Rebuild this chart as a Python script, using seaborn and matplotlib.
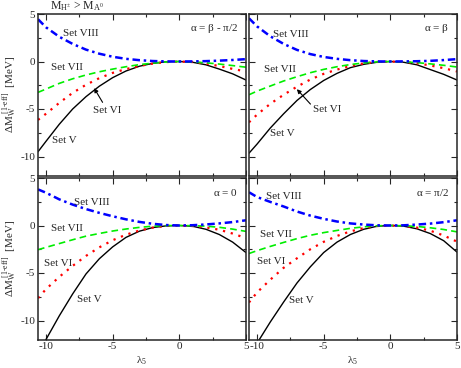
import numpy as np
import pandas as pd
import seaborn as sns
import matplotlib
matplotlib.use("Agg")
import matplotlib.pyplot as plt

# lambda_5 sampling points
lam = [-10.6, -10, -9, -8, -7, -6, -5, -4, -3, -2, -1, 0, 1, 2, 3, 4, 5]

# alpha = beta - pi/2 (top left)
tl_set_v = [-9.5, -8.4, -6.6, -5.0, -3.7, -2.6, -1.7, -1.0, -0.5, -0.2, -0.03, 0, -0.08, -0.35, -0.8, -1.3, -1.95]
tl_set_vi = [-6.15, -5.5, -4.35, -3.3, -2.45, -1.75, -1.2, -0.8, -0.47, -0.22, -0.06, 0, -0.06, -0.22, -0.48, -0.78, -1.05]
tl_set_vii = [-3.25, -2.9, -2.3, -1.82, -1.42, -1.08, -0.8, -0.55, -0.33, -0.17, -0.05, 0, -0.05, -0.14, -0.27, -0.43, -0.6]
tl_set_viii = [4.45, 3.6, 2.6, 1.85, 1.25, 0.82, 0.5, 0.28, 0.14, 0.05, 0.01, 0, 0.01, 0.04, 0.09, 0.16, 0.25]

# alpha = beta (top right)
tr_set_v = [-9.65, -8.7, -7.0, -5.5, -4.1, -2.95, -2.0, -1.25, -0.65, -0.3, -0.08, 0, -0.08, -0.35, -0.85, -1.35, -1.95]
tr_set_vi = [-6.4, -5.6, -4.45, -3.5, -2.65, -1.9, -1.3, -0.85, -0.48, -0.2, -0.05, 0, -0.05, -0.18, -0.42, -0.7, -1.05]
tr_set_vii = [-3.5, -3.12, -2.58, -2.05, -1.6, -1.18, -0.83, -0.55, -0.32, -0.15, -0.04, 0, -0.04, -0.12, -0.25, -0.4, -0.58]
tr_set_viii = [4.55, 3.7, 2.65, 1.85, 1.22, 0.78, 0.48, 0.28, 0.14, 0.05, 0.01, 0, 0.01, 0.03, 0.07, 0.15, 0.25]

# alpha = 0 (bottom left)
bl_set_v = [-13.6, -12.0, -9.5, -7.2, -5.1, -3.5, -2.25, -1.25, -0.6, -0.22, -0.04, 0, -0.08, -0.4, -0.95, -1.75, -2.85]
bl_set_vi = [-7.65, -6.7, -5.4, -4.25, -3.2, -2.3, -1.55, -0.97, -0.53, -0.22, -0.05, 0, -0.06, -0.2, -0.45, -0.85, -1.33]
bl_set_vii = [-2.55, -2.3, -1.9, -1.5, -1.12, -0.84, -0.58, -0.37, -0.2, -0.07, -0.01, 0, -0.02, -0.07, -0.19, -0.38, -0.62]
bl_set_viii = [3.8, 3.45, 2.75, 2.2, 1.73, 1.33, 0.97, 0.65, 0.38, 0.18, 0.05, 0, 0.03, 0.11, 0.22, 0.36, 0.55]

# alpha = pi/2 (bottom right)
br_set_v = [-13.8, -12.4, -10.15, -8.05, -6.05, -4.35, -2.85, -1.75, -0.95, -0.4, -0.08, 0, -0.07, -0.35, -0.85, -1.6, -2.8]
br_set_vi = [-8.1, -7.05, -5.7, -4.45, -3.45, -2.5, -1.72, -1.1, -0.62, -0.27, -0.06, 0, -0.05, -0.22, -0.55, -1.05, -1.7]
br_set_vii = [-2.95, -2.65, -2.2, -1.78, -1.38, -1.03, -0.75, -0.52, -0.3, -0.14, -0.03, 0, -0.03, -0.1, -0.24, -0.42, -0.67]
br_set_viii = [3.5, 3.0, 2.48, 2.0, 1.47, 1.04, 0.7, 0.42, 0.22, 0.1, 0.02, 0, 0.02, 0.1, 0.2, 0.35, 0.55]

titles = [r"$\alpha$ = $\beta$ - $\pi$/2", r"$\alpha$ = $\beta$", r"$\alpha$ = 0", r"$\alpha$ = $\pi$/2"]

sns.set_style("ticks")
plt.rcParams["font.family"] = ["Liberation Serif", "DejaVu Serif"]
plt.rcParams["mathtext.fontset"] = "custom"
plt.rcParams["mathtext.rm"] = "Liberation Serif"
plt.rcParams["mathtext.default"] = "regular"
plt.rcParams["axes.unicode_minus"] = False

fig = plt.figure(figsize=(4.61, 3.68), dpi=100)
W, H = 461.0, 368.0
def box(l, r, t, b):
    return [l / W, 1 - b / H, (r - l) / W, (b - t) / H]

axes = [fig.add_axes(box(38, 246, 14, 175.5)),
        fig.add_axes(box(249, 457, 14, 175.5)),
        fig.add_axes(box(38, 246, 178, 339.5)),
        fig.add_axes(box(249, 457, 178, 339.5))]

panel_data = [
    (tl_set_v, tl_set_vi, tl_set_vii, tl_set_viii),
    (tr_set_v, tr_set_vi, tr_set_vii, tr_set_viii),
    (bl_set_v, bl_set_vi, bl_set_vii, bl_set_viii),
    (br_set_v, br_set_vi, br_set_vii, br_set_viii),
]

# label positions (lambda, value) for Set V, VI, VII, VIII
label_pos = [
    [(-8.6, -8.3), (-5.4, -5.15), (-8.4, -0.6), (-7.4, 2.9)],
    [(-8.1, -7.55), (-4.75, -5.1), (-8.25, -0.85), (-7.5, 2.8)],
    [(-6.75, -7.8), (-9.1, -3.95), (-8.4, -0.3), (-6.6, 2.4)],
    [(-6.7, -7.9), (-8.95, -3.8), (-8.6, -0.9), (-8.0, 3.05)],
]
set_names = ["Set V", "Set VI", "Set VII", "Set VIII"]

for i, ax in enumerate(axes):
    v, vi, vii, viii = panel_data[i]
    sns.lineplot(x=lam, y=v, ax=ax, color="black", lw=1.0)
    sns.lineplot(x=lam, y=vi, ax=ax, color="red", lw=1.6, linestyle=(0, (1, 2.6)))
    sns.lineplot(x=lam, y=vii, ax=ax, color="#00ee00", lw=1.2, linestyle=(0, (4, 2.5)))
    sns.lineplot(x=lam, y=viii, ax=ax, color="blue", lw=1.8, linestyle=(0, (3, 1.5, 1, 1.5)))

    ax.set_xlim(-10.6, 5)
    ax.set_ylim(-12, 5)
    ax.set_xticks([-10, -5, 0, 5])
    ax.set_xticks([-7.5, -2.5, 2.5], minor=True)
    ax.set_yticks([-10, -5, 0, 5])
    ax.set_yticks([-7.5, -2.5, 2.5], minor=True)
    ax.tick_params(direction="in", which="both", top=True, right=True,
                   labelsize=8, pad=2, width=0.8)
    ax.tick_params(which="major", length=4)
    ax.tick_params(which="minor", length=2.5)
    for s in ax.spines.values():
        s.set_linewidth(1.1)
    ax.set_xlabel("")
    ax.set_ylabel("")
    if i in (0, 1):
        ax.set_xticklabels([])
    else:
        ax.set_xlabel(r"$\lambda_5$", fontsize=8, labelpad=2)
    if i in (1, 3):
        ax.set_yticklabels([])
    else:
        ax.set_ylabel(r"$\Delta M_W^{\ [1\text{-}eff]}$  [MeV]", fontsize=8, labelpad=1)

    for name, (x, y) in zip(set_names, label_pos[i]):
        ax.text(x, y, name, fontsize=8, ha="center", va="center")
    ax.text(4.4, 3.45, titles[i], fontsize=8, ha="right", va="center")

# arrows to Set VI in the top panels
axes[0].annotate("", xy=(-6.5, -2.55), xytext=(-5.65, -4.55),
                 arrowprops=dict(arrowstyle="-|>", color="black", lw=0.8, mutation_scale=6))
axes[1].annotate("", xy=(-7.15, -2.7), xytext=(-5.85, -4.7),
                 arrowprops=dict(arrowstyle="-|>", color="black", lw=0.8, mutation_scale=6))

fig.text(50 / W, 1 - 6 / H, r"$M_{H^{\pm}}$ > $M_{A^0}$", fontsize=8.5, ha="left", va="center")

fig.savefig("out.png", dpi=100)
